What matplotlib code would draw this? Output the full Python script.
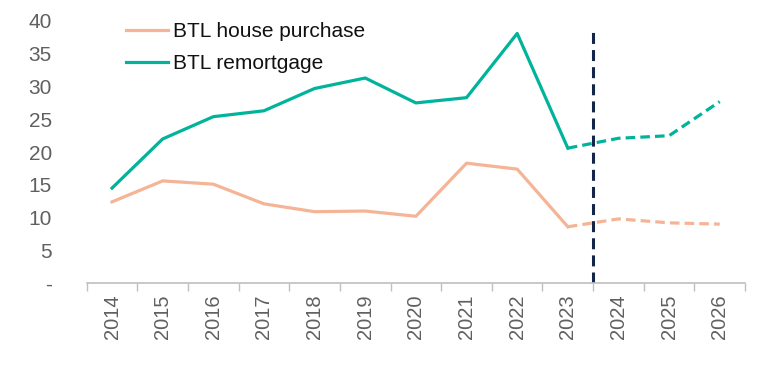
import numpy as np
import matplotlib.pyplot as plt

plt.rcParams['font.family'] = ['Liberation Sans', 'DejaVu Sans']

years = ['2014', '2015', '2016', '2017', '2018', '2019', '2020',
         '2021', '2022', '2023', '2024', '2025', '2026']
house_purchase = [12.4, 15.6, 15.1, 12.1, 10.9, 11.0, 10.2, 18.3, 17.4, 8.6, 9.8, 9.2, 9.0]
remortgage = [14.5, 22.0, 25.4, 26.3, 29.7, 31.3, 27.5, 28.3, 38.1, 20.6, 22.1, 22.5, 27.7]
n_actual = 10  # 2014-2023 actual, 2023 onwards forecast (dashed)

teal = '#00B39B'
salmon = '#F6B496'
navy = '#14254A'
grey = '#606060'

fig = plt.figure(figsize=(7.81, 3.75), dpi=100)
ax = fig.add_axes([0.111, 0.245, 0.843, 0.699])

x = np.arange(len(years))
ax.plot(x[:n_actual], house_purchase[:n_actual], color=salmon, lw=2.3, label='BTL house purchase')
ax.plot(x[n_actual - 1:], house_purchase[n_actual - 1:], color=salmon, lw=2.3, ls=(0, (3, 1.6)))
ax.plot(x[:n_actual], remortgage[:n_actual], color=teal, lw=2.3, label='BTL remortgage')
ax.plot(x[n_actual - 1:], remortgage[n_actual - 1:], color=teal, lw=2.3, ls=(0, (3, 1.6)))

# forecast divider
ax.vlines(n_actual - 0.5, 0, 38.8, color=navy, lw=2.2, linestyles=(0, (3.6, 2)))

ax.set_xlim(-0.5, len(years) - 0.5)
ax.set_ylim(0, 40)
ax.set_yticks(np.arange(0, 41, 5))
ax.set_yticklabels(['-'] + [str(v) for v in range(5, 41, 5)])
ax.set_xticks(x)
ax.set_xticklabels(years, rotation=90)
ax.set_xticks(np.arange(-0.5, len(years)), minor=True)

ax.tick_params(axis='y', length=0, pad=25, labelsize=15, labelcolor=grey)
ax.tick_params(axis='x', which='major', length=0, pad=8, labelsize=14.5, labelcolor=grey)
ax.tick_params(axis='x', which='minor', length=6, color='#BFBFBF', width=1)

for s in ['top', 'right', 'left']:
    ax.spines[s].set_visible(False)
ax.spines['bottom'].set_color('#BFBFBF')
ax.spines['bottom'].set_linewidth(1.2)

ax.legend(loc='upper left', bbox_to_anchor=(0.031, 1.067), frameon=False, fontsize=15,
          handlelength=2.0, handletextpad=0.25, labelspacing=0.62, labelcolor='#111111')

fig.savefig('out.png', dpi=100)
